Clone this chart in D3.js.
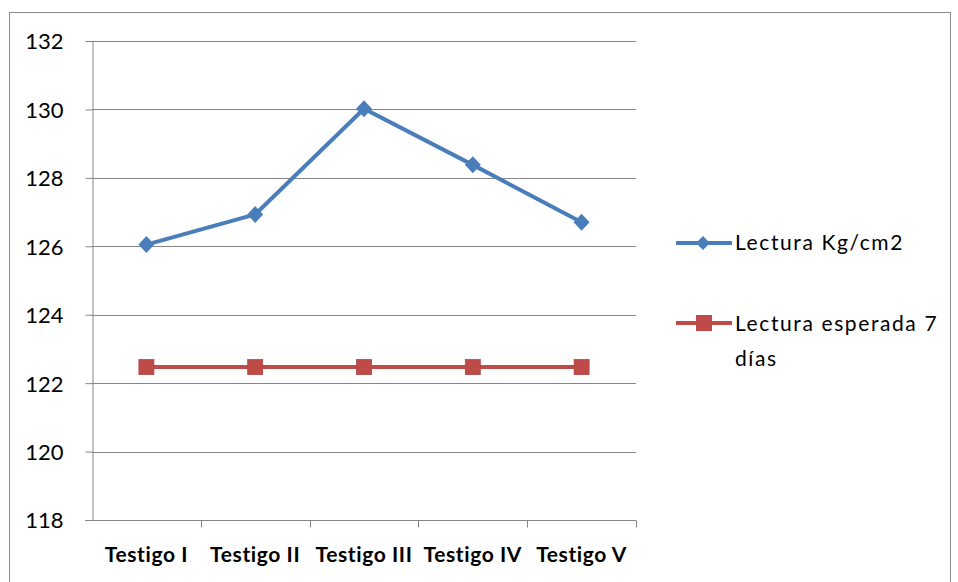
<!DOCTYPE html>
<html>
<head>
<meta charset="utf-8">
<script src="https://cdn.jsdelivr.net/npm/d3@7"></script>
<style>
  html, body { margin: 0; padding: 0; background: #fff; }
  svg text { font-family: Lato, "Open Sans", sans-serif; fill: #000; }
</style>
</head>
<body>
<svg id="chart" width="958" height="582"></svg>
<script>
// Compression readings per test cylinder vs. the expected 7-day value
const categories = ["Testigo I", "Testigo II", "Testigo III", "Testigo IV", "Testigo V"];
const lectura = [126.05, 126.93, 130.02, 128.38, 126.7];
const esperada = [122.47, 122.47, 122.47, 122.47, 122.47];
const yTicks = [118, 120, 122, 124, 126, 128, 130, 132];
const seriesNames = ["Lectura Kg/cm2", "Lectura esperada 7", "días"];

const svg = d3.select("#chart");
const plot = { left: 92, right: 636, top: 41, bottom: 520 };

// outer chart frame
svg.append("rect")
  .attr("x", 9.5).attr("y", 12.5)
  .attr("width", 941).attr("height", 600)
  .attr("fill", "none").attr("stroke", "#8c8c8c").attr("stroke-width", 1);

const x = d3.scaleBand().domain(categories).range([plot.left, plot.right]).padding(0);
const y = d3.scaleLinear().domain([118, 132]).range([plot.bottom, plot.top]);

// horizontal gridlines
svg.append("g").selectAll("line").data(yTicks.filter(t => t > 118)).join("line")
  .attr("x1", plot.left).attr("x2", plot.right)
  .attr("y1", d => Math.round(y(d)) + 0.5).attr("y2", d => Math.round(y(d)) + 0.5)
  .attr("stroke", "#868686").attr("stroke-width", 1);

// y axis
const yAxis = svg.append("g")
  .attr("transform", `translate(${plot.left + 0.5},0)`)
  .call(d3.axisLeft(y).tickValues(yTicks).tickSize(7).tickPadding(22).tickFormat(d3.format("d")));
yAxis.select(".domain").attr("stroke", "#868686");
yAxis.selectAll(".tick line").attr("stroke", "#868686");
yAxis.selectAll(".tick text")
  .attr("font-size", 22).attr("font-family", "Lato, sans-serif")
  .attr("fill", "#111").attr("dy", "0.36em");

// x axis with ticks on category boundaries
const xAxis = svg.append("g")
  .attr("transform", `translate(0,${Math.round(plot.bottom) + 0.5})`);
xAxis.append("line")
  .attr("x1", plot.left - 7).attr("x2", plot.right)
  .attr("stroke", "#868686");
xAxis.selectAll("line.tk").data(categories).join("line")
  .attr("class", "tk")
  .attr("x1", d => Math.round(x(d) + x.bandwidth()) + 0.5)
  .attr("x2", d => Math.round(x(d) + x.bandwidth()) + 0.5)
  .attr("y1", 0).attr("y2", 7)
  .attr("stroke", "#868686");
xAxis.selectAll("text").data(categories).join("text")
  .attr("x", d => x(d) + x.bandwidth() / 2)
  .attr("y", 41.5)
  .attr("text-anchor", "middle")
  .attr("font-size", 21)
  .attr("font-weight", "bold")
  .attr("letter-spacing", 0.6)
  .text(d => d);

const cx = d => x(d) + x.bandwidth() / 2;

// series lines
const line = d3.line().x(d => cx(d.c)).y(d => y(d.v));
const lecturaPts = categories.map((c, i) => ({ c, v: lectura[i] }));
const esperadaPts = categories.map((c, i) => ({ c, v: esperada[i] }));

const blue = "#4a7ebb", red = "#be4b48";
const diamondPath = (w, h) => `M0,${-h}L${w},0L0,${h}L${-w},0Z`;

svg.append("path").datum(esperadaPts)
  .attr("d", line).attr("fill", "none")
  .attr("stroke", red).attr("stroke-width", 4);
svg.append("g").selectAll("rect").data(esperadaPts).join("rect")
  .attr("x", d => cx(d.c) - 7.5).attr("y", d => y(d.v) - 7.5)
  .attr("width", 15).attr("height", 15)
  .attr("fill", red).attr("stroke", "#b24542").attr("stroke-width", 0.8);

svg.append("path").datum(lecturaPts)
  .attr("d", line).attr("fill", "none")
  .attr("stroke", blue).attr("stroke-width", 4);
svg.append("g").selectAll("path").data(lecturaPts).join("path")
  .attr("d", diamondPath(8, 8.5))
  .attr("transform", d => `translate(${cx(d.c)},${y(d.v)})`)
  .attr("fill", blue);

// legend
const legend = svg.append("g");
legend.append("line").attr("x1", 676).attr("x2", 732).attr("y1", 243).attr("y2", 243)
  .attr("stroke", blue).attr("stroke-width", 4);
legend.append("path").attr("d", diamondPath(7, 7)).attr("transform", "translate(703,243)").attr("fill", blue);
legend.append("text").attr("x", 735).attr("y", 250).attr("font-size", 21)
  .attr("letter-spacing", 1.6).text(seriesNames[0]);

legend.append("line").attr("x1", 676).attr("x2", 732).attr("y1", 323).attr("y2", 323)
  .attr("stroke", red).attr("stroke-width", 4);
legend.append("rect").attr("x", 696).attr("y", 315).attr("width", 16).attr("height", 16).attr("fill", red);
legend.append("text").attr("x", 735).attr("y", 331).attr("font-size", 21)
  .attr("letter-spacing", 1.6).text(seriesNames[1]);
legend.append("text").attr("x", 735).attr("y", 366).attr("font-size", 21)
  .attr("letter-spacing", 1.6).text(seriesNames[2]);
</script>
</body>
</html>
